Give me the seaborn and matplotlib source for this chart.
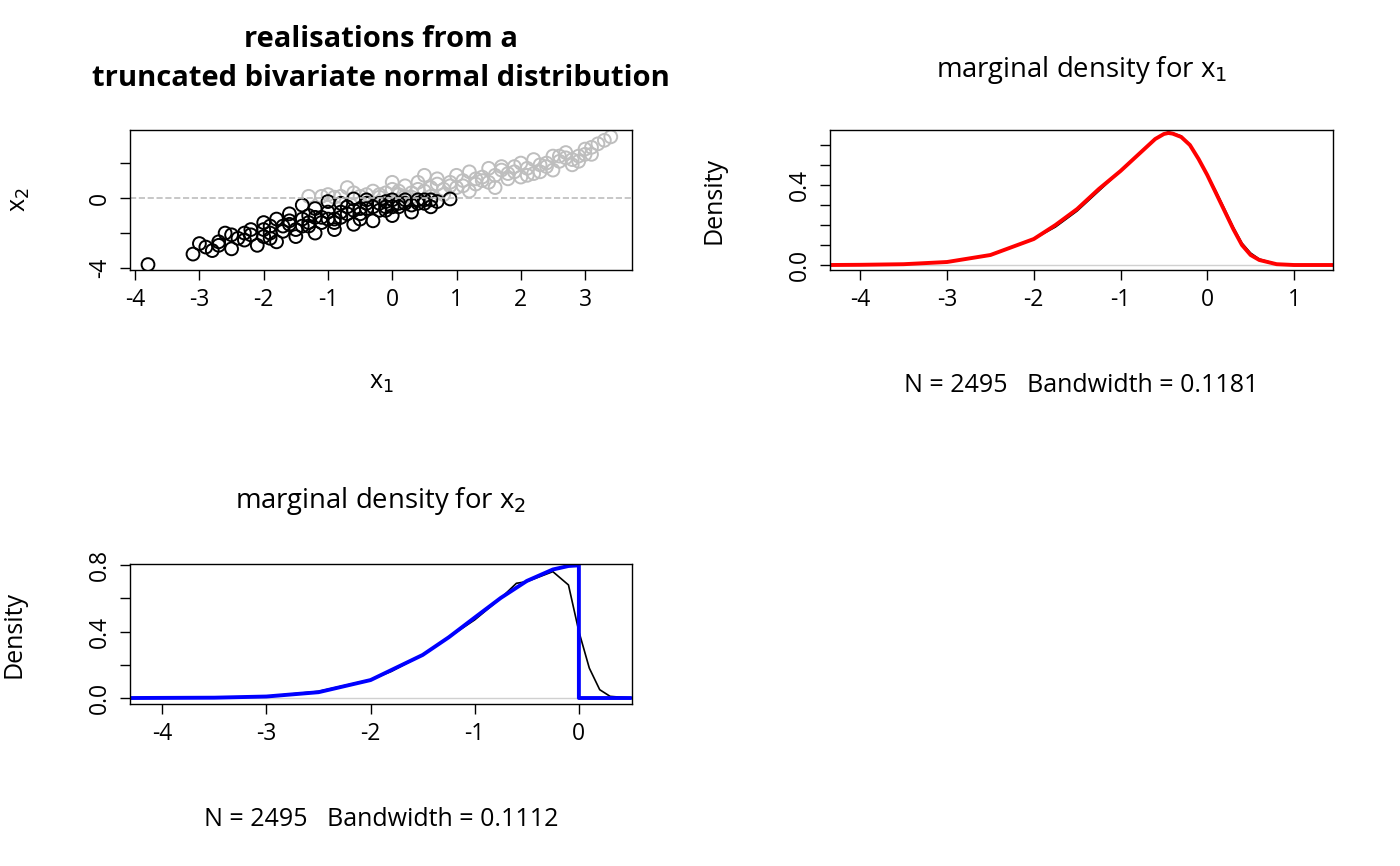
import matplotlib
matplotlib.use("Agg")
import matplotlib.pyplot as plt
import seaborn as sns

sns.set_style("white")
plt.rcParams["font.family"] = ["Open Sans", "DejaVu Sans"]
plt.rcParams["axes.unicode_minus"] = False
plt.rcParams["text.color"] = "black"
plt.rcParams["axes.labelcolor"] = "black"
plt.rcParams["xtick.color"] = "black"
plt.rcParams["ytick.color"] = "black"

# realisations: grey = x2 > 0 (discarded), black = x2 < 0 (kept)
grey_x1 = [-1.3, -1.0, -0.8, -0.6, -0.5, -0.3, -0.2, 0.0, 0.1, 0.2, 0.3, 0.4, 0.5, 0.6,
           0.7, 0.8, 0.9, 1.0, 1.0, 1.1, 1.2, 1.3, 1.4, 1.5, 1.5, 1.6, 1.7, 1.8, 1.9,
           2.0, 2.0, 2.1, 2.2, 2.3, 2.4, 2.5, 2.5, 2.6, 2.7, 2.8, 2.9, 3.0, 3.1, 3.2,
           3.3, 3.4, -0.2, 0.3, 0.6, -0.9, 1.6, 0.0, 0.5, -0.7, 2.2, 1.2, 0.8, 2.7,
           -0.4, 0.1, 0.4, 0.7, 1.1, 1.3, 1.8, 2.1, 2.4, 2.9, 3.1, -1.1, -0.1, 0.9,
           1.4, 1.9, 2.3, 2.6, 0.2, 1.7, 2.8, 3.0]
grey_x2 = [0.1, 0.2, 0.1, 0.3, 0.1, 0.4, 0.2, 0.5, 0.2, 0.7, 0.3, 0.9, 0.4, 0.6,
           1.1, 0.5, 0.9, 1.3, 0.6, 1.0, 1.5, 0.8, 1.2, 1.7, 0.9, 1.3, 1.8, 1.1, 1.5,
           2.0, 1.2, 1.7, 2.2, 1.5, 2.0, 2.4, 1.6, 2.1, 2.6, 1.9, 2.4, 2.8, 2.5, 3.1,
           3.3, 3.5, 0.05, 0.05, 0.1, 0.05, 0.6, 0.9, 1.3, 0.6, 1.4, 0.4, 0.2, 2.3,
           0.2, 0.4, 0.5, 0.8, 0.7, 1.1, 1.4, 1.3, 1.8, 2.1, 2.9, 0.1, 0.3, 0.7,
           1.0, 1.8, 1.9, 2.4, 0.1, 1.6, 2.2, 2.5]
black_x1 = [-3.8, -3.1, -3.0, -2.8, -2.7, -2.5, -2.5, -2.3, -2.2, -2.1, -2.0, -1.9, -1.8,
            -1.7, -1.6, -1.5, -1.4, -1.3, -1.2, -1.1, -1.0, -0.9, -0.8, -0.7, -0.6, -0.5,
            -0.4, -0.3, -0.2, -0.1, 0.0, 0.1, 0.2, 0.3, 0.4, 0.5, 0.6, 0.7, 0.9, -1.6,
            -1.2, -0.8, -0.4, -2.0, -1.0, -0.6, 0.0, -1.4, -1.8, -2.6,
            -2.4, -2.2, -1.9, -1.7, -1.5, -1.3, -1.1, -0.9, -0.7, -0.5, -0.3, -0.1,
            0.1, 0.3, 0.5, -2.3, -2.0, -1.6, -1.4, -1.2, -1.0, -0.8, -0.6, -0.4,
            -0.2, 0.0, 0.2, 0.4, -2.9, -2.7, -1.9, -1.3, -0.9, -0.5, -0.1, 0.6]
black_x2 = [-3.8, -3.2, -2.6, -3.0, -2.5, -2.1, -2.9, -2.4, -1.8, -2.7, -2.2, -1.6, -2.5,
            -1.9, -1.3, -2.2, -1.6, -1.0, -2.0, -1.4, -0.8, -1.8, -1.1, -0.5, -1.5, -0.9,
            -0.3, -1.3, -0.7, -0.2, -1.0, -0.5, -0.1, -0.8, -0.3, -0.1, -0.5, -0.2, -0.05,
            -0.9, -0.6, -0.3, -0.1, -1.4, -0.2, -0.05, -0.1, -0.4, -1.2, -2.0,
            -2.3, -2.1, -2.0, -1.6, -1.8, -1.4, -1.1, -1.2, -0.9, -0.6, -0.5, -0.5,
            -0.3, -0.4, -0.3, -2.0, -1.8, -1.5, -1.2, -1.1, -1.2, -0.8, -0.7, -0.6,
            -0.3, -0.5, -0.3, -0.1, -2.8, -2.7, -2.3, -1.6, -1.4, -1.2, -0.7, -0.1]

# marginal density of x1: kernel estimate (black) and true density (red)
d1_x = [-4.35, -4.0, -3.5, -3.0, -2.5, -2.0, -1.75, -1.5, -1.25, -1.0, -0.75, -0.6,
        -0.5, -0.45, -0.4, -0.3, -0.2, -0.1, 0.0, 0.1, 0.2, 0.3, 0.4, 0.5, 0.6, 0.8, 1.0, 1.45]
kde1_y = [0.0, 0.001, 0.004, 0.015, 0.05, 0.13, 0.19, 0.27, 0.37, 0.47, 0.57, 0.63,
          0.655, 0.665, 0.66, 0.645, 0.6, 0.53, 0.45, 0.37, 0.28, 0.19, 0.11, 0.06, 0.03, 0.005, 0.001, 0.0]
true1_y = [0.0, 0.001, 0.004, 0.015, 0.05, 0.13, 0.2, 0.28, 0.38, 0.47, 0.57, 0.63,
           0.655, 0.66, 0.657, 0.64, 0.6, 0.53, 0.45, 0.36, 0.27, 0.18, 0.1, 0.05, 0.025, 0.004, 0.0, 0.0]

# marginal density of x2: kernel estimate (black) and truncated normal (blue)
kde2_x = [-4.3, -3.5, -3.0, -2.5, -2.0, -1.8, -1.5, -1.0, -0.75, -0.6, -0.5, -0.25, -0.1,
          0.0, 0.1, 0.2, 0.3, 0.5]
kde2_y = [0.0, 0.002, 0.01, 0.04, 0.11, 0.16, 0.26, 0.47, 0.6, 0.69, 0.7, 0.76, 0.68,
          0.4, 0.18, 0.05, 0.01, 0.0]
true2_x = [-4.3, -3.5, -3.0, -2.5, -2.0, -1.5, -1.25, -1.0, -0.75, -0.5, -0.25, -0.1, 0.0, 0.0, 0.5]
true2_y = [0.0, 0.002, 0.009, 0.035, 0.108, 0.259, 0.365, 0.484, 0.602, 0.704, 0.773, 0.794, 0.798, 0.0, 0.0]

W, H = 1400, 866
fig = plt.figure(figsize=(14, 8.66), dpi=100)

LAB = 18
TICK = 16.5


def axes_px(l, t, r, b):
    return fig.add_axes([l / W, 1 - b / H, (r - l) / W, (b - t) / H])


def rstyle(ax):
    for s in ax.spines.values():
        s.set_color("black")
        s.set_linewidth(1)
    ax.tick_params(direction="out", length=7, width=1, color="black",
                   labelsize=TICK, left=True, bottom=True, pad=6)
    ax.tick_params(axis="y", labelrotation=90)
    for lab in ax.get_yticklabels():
        lab.set_va("center")


def line(x, y, ax, color, lw):
    sns.lineplot(x=x, y=y, ax=ax, color=color, lw=lw, sort=False, estimator=None)


# panel 1: scatter
ax1 = axes_px(130, 130, 632, 270)
ax1.axhline(0, color="#bebebe", ls="--", lw=1.2)
sns.scatterplot(x=grey_x1, y=grey_x2, ax=ax1, s=85, facecolor="none",
                edgecolor="#bebebe", linewidth=1.4)
sns.scatterplot(x=black_x1, y=black_x2, ax=ax1, s=85, facecolor="none",
                edgecolor="black", linewidth=1.4)
ax1.set_xlim(-4.08, 3.73)
ax1.set_ylim(-4.11, 3.89)
ax1.set_xticks(range(-4, 4))
ax1.set_yticks([-4, -2, 0, 2])
ax1.set_yticklabels(["-4", "", "0", ""])
ax1.set_xlabel("x$_1$", fontsize=LAB, labelpad=42)
ax1.set_ylabel("x$_2$", fontsize=LAB, labelpad=40)
ax1.set_title("realisations from a\ntruncated bivariate normal distribution",
              fontsize=21, fontweight="bold", pad=32, linespacing=1.45)
rstyle(ax1)

# panel 2: x1 density
ax2 = axes_px(830, 130, 1333, 270)
ax2.axhline(0, color="#d0d0d0", lw=1)
line(d1_x, kde1_y, ax2, "black", 1.2)
line(d1_x, true1_y, ax2, "red", 2.8)
ax2.set_xlim(-4.35, 1.45)
ax2.set_ylim(-0.025, 0.675)
ax2.set_xticks(range(-4, 2))
ax2.set_yticks([0, 0.1, 0.2, 0.3, 0.4, 0.5, 0.6])
ax2.set_yticklabels(["0.0", "", "", "", "0.4", "", ""])
ax2.set_xlabel("N = 2495   Bandwidth = 0.1181", fontsize=LAB, labelpad=44)
ax2.set_ylabel("Density", fontsize=LAB, labelpad=44)
ax2.set_title("marginal density for x$_1$", fontsize=LAB * 1.1, pad=38)
rstyle(ax2)

# panel 3: x2 density
ax3 = axes_px(130, 564, 632, 704)
ax3.axhline(0, color="#d0d0d0", lw=1)
line(kde2_x, kde2_y, ax3, "black", 1.2)
line(true2_x, true2_y, ax3, "blue", 2.8)
ax3.set_xlim(-4.31, 0.51)
ax3.set_ylim(-0.036, 0.806)
ax3.set_xticks(range(-4, 1))
ax3.set_yticks([0, 0.2, 0.4, 0.6, 0.8])
ax3.set_yticklabels(["0.0", "", "0.4", "", "0.8"])
ax3.set_xlabel("N = 2495   Bandwidth = 0.1112", fontsize=LAB, labelpad=44)
ax3.set_ylabel("Density", fontsize=LAB, labelpad=44)
ax3.set_title("marginal density for x$_2$", fontsize=LAB * 1.1, pad=40)
rstyle(ax3)

fig.savefig("out.png", dpi=100)
